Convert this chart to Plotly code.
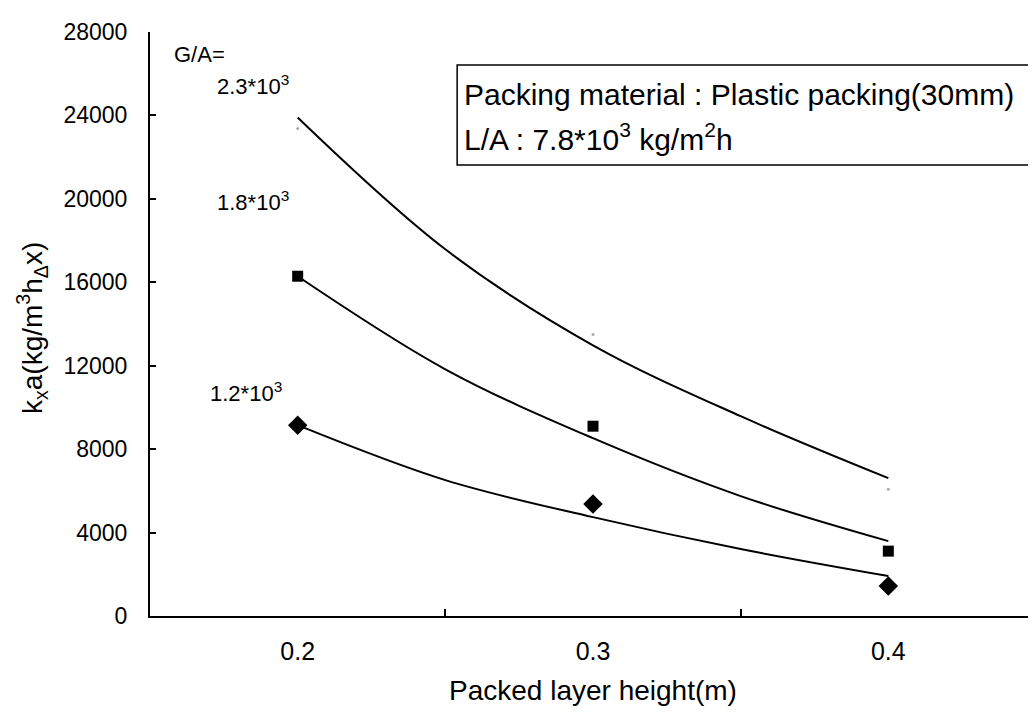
import plotly.graph_objects as go

# ---- data ----
heights = [0.2, 0.3, 0.4]
ga_12_points = [9150, 5365, 1440]
ga_18_points = [16290, 9100, 3110]
ga_23_points = [23375, 13500, 6080]

curve_x = [0.2, 0.25, 0.3, 0.35, 0.4]
ga_12_curve = [9150, 6515, 4740, 3210, 1915]
ga_18_curve = [16290, 11830, 8526, 5750, 3590]
ga_23_curve = [23900, 17580, 12980, 9580, 6610]

x_tick_vals = [0.2, 0.3, 0.4]
x_tick_text = ["0.2", "0.3", "0.4"]
y_tick_vals = [0, 4000, 8000, 12000, 16000, 20000, 24000, 28000]
y_tick_text = ["0", "4000", "8000", "12000", "16000", "20000", "24000", "28000"]

FONT = "Liberation Sans, Arial, sans-serif"

fig = go.Figure()
for cx, cy in [(curve_x, ga_23_curve), (curve_x, ga_18_curve), (curve_x, ga_12_curve)]:
    fig.add_trace(go.Scatter(x=cx, y=cy, mode="lines",
                             line=dict(color="black", width=2, shape="spline", smoothing=1.0),
                             hoverinfo="skip", showlegend=False))

fig.add_trace(go.Scatter(x=heights, y=ga_23_points, mode="markers",
                         marker=dict(symbol="circle", size=3, color="#aaaaaa"), showlegend=False))
fig.add_trace(go.Scatter(x=heights, y=ga_18_points, mode="markers",
                         marker=dict(symbol="square", size=11, color="black"), showlegend=False))
fig.add_trace(go.Scatter(x=heights, y=ga_12_points, mode="markers",
                         marker=dict(symbol="diamond", size=15, color="black"), showlegend=False))

ann = dict(showarrow=False, font=dict(family=FONT, size=22, color="black"),
           xanchor="left", yanchor="middle")
fig.add_annotation(x=0.1574, y=26900, text="G/A=", **ann)
fig.add_annotation(x=0.172, y=25450, text="2.3*10<sup>3</sup>", **ann)
fig.add_annotation(x=0.172, y=19890, text="1.8*10<sup>3</sup>", **ann)
fig.add_annotation(x=0.1696, y=10735, text="1.2*10<sup>3</sup>", **ann)

# info box
fig.add_shape(type="rect", x0=0.254, x1=0.449, y0=21620, y1=26420,
              line=dict(color="black", width=1.5), fillcolor="white", layer="above")
box = dict(showarrow=False, font=dict(family=FONT, size=30, color="black"),
           xanchor="left", yanchor="middle")
fig.add_annotation(x=0.2556, y=24980, text="Packing material : Plastic packing(30mm)", **box)
fig.add_annotation(x=0.2556, y=22950, text="L/A : 7.8*10<sup>3</sup> kg/m<sup>2</sup>h", **box)

# axis titles
fig.add_annotation(xref="paper", yref="paper", x=(32 - 150) / 886, y=(616 - 328) / 584,
                   xanchor="center", yanchor="middle",
                   text="k<sub>x</sub>a(kg/m<sup>3</sup>h<sub>Δ</sub>x)", textangle=-90,
                   showarrow=False, font=dict(family=FONT, size=28, color="black"))
fig.add_annotation(xref="paper", yref="paper", x=0.5, y=(616 - 690) / 584,
                   xanchor="center", yanchor="middle",
                   text="Packed layer height(m)", showarrow=False,
                   font=dict(family=FONT, size=28, color="black"))

fig.update_layout(
    width=1028, height=711,
    margin=dict(l=142, r=0, t=24, b=103),
    paper_bgcolor="white", plot_bgcolor="white",
    font=dict(family=FONT, size=22, color="black"),
    xaxis=dict(range=[0.15, 0.45], tickvals=x_tick_vals, ticktext=x_tick_text,
               ticks="", showgrid=False, zeroline=False, showline=True,
               linecolor="black", linewidth=2, ticklabelstandoff=12,
               tickfont=dict(family=FONT, size=25, color="black"),
               minor=dict(tickvals=[0.25, 0.35], ticks="inside", ticklen=7,
                          tickcolor="black", tickwidth=1.5, showgrid=False)),
    yaxis=dict(range=[0, 28000], tickvals=y_tick_vals, ticktext=y_tick_text,
               ticks="inside", ticklen=6,
               tickcolor="black", tickwidth=1.5, showgrid=False, zeroline=False,
               showline=True, linecolor="black", linewidth=2, ticklabelstandoff=16,
               tickfont=dict(family=FONT, size=23, color="black")),
)

fig.write_html("out.html")
